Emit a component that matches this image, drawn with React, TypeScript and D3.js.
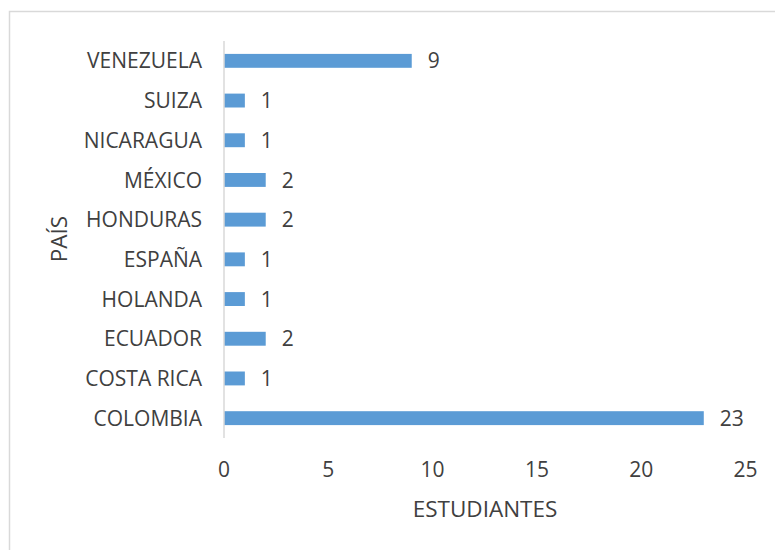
import React from "react";
import * as d3 from "d3";

const countries = [
  "COLOMBIA",
  "COSTA RICA",
  "ECUADOR",
  "HOLANDA",
  "ESPAÑA",
  "HONDURAS",
  "MÉXICO",
  "NICARAGUA",
  "SUIZA",
  "VENEZUELA",
];
const students = [23, 1, 2, 1, 1, 2, 2, 1, 1, 9];
const xTicks = [0, 5, 10, 15, 20, 25];

const FONT = "'Open Sans', 'DejaVu Sans', sans-serif";
const TEXT = "#404040";
const BAR = "#5B9BD5";
const LINE = "#D9D9D9";

export default function App() {
  const width = 775;
  const height = 550;

  const x = d3.scaleLinear().domain([0, 25]).range([224, 745.5]);
  // first category sits at the bottom, like Excel bar charts
  const y = d3
    .scaleBand()
    .domain(countries)
    .range([438, 41])
    .paddingInner(0.65)
    .paddingOuter(0.325);

  return (
    <svg
      width={width}
      height={height}
      style={{ position: "fixed", left: 0, top: 0, background: "#fff" }}
      fontFamily={FONT}
    >
      {/* chart frame */}
      <rect x={9.5} y={11.5} width={820} height={600} fill="none" stroke={LINE} strokeWidth={1.5} />

      {/* bars */}
      {countries.map((c, i) => (
        <rect
          key={c}
          x={x(0)}
          y={y(c)}
          width={x(students[i]) - x(0)}
          height={y.bandwidth()}
          fill={BAR}
        />
      ))}

      {/* value labels */}
      {countries.map((c, i) => (
        <text
          key={c + "-v"}
          x={x(students[i]) + 16}
          y={(y(c) || 0) + y.bandwidth() / 2}
          dy="0.36em"
          fontSize={21}
          fill={TEXT}
        >
          {students[i]}
        </text>
      ))}

      {/* vertical axis line */}
      <line x1={x(0)} x2={x(0)} y1={41} y2={438} stroke={LINE} strokeWidth={1.5} />

      {/* category labels */}
      {countries.map((c) => (
        <text
          key={c + "-l"}
          x={202}
          y={(y(c) || 0) + y.bandwidth() / 2}
          dy="0.36em"
          textAnchor="end"
          fontSize={21}
          fill={TEXT}
        >
          {c}
        </text>
      ))}

      {/* x tick labels */}
      {xTicks.map((t) => (
        <text key={t} x={x(t)} y={477} textAnchor="middle" fontSize={21} fill={TEXT}>
          {t}
        </text>
      ))}

      {/* axis titles */}
      <text x={485} y={517} textAnchor="middle" fontSize={22.5} fill={TEXT}>
        ESTUDIANTES
      </text>
      <text
        transform="translate(67,239) rotate(-90)"
        textAnchor="middle"
        fontSize={22.5}
        fill={TEXT}
      >
        PAÍS
      </text>
    </svg>
  );
}
